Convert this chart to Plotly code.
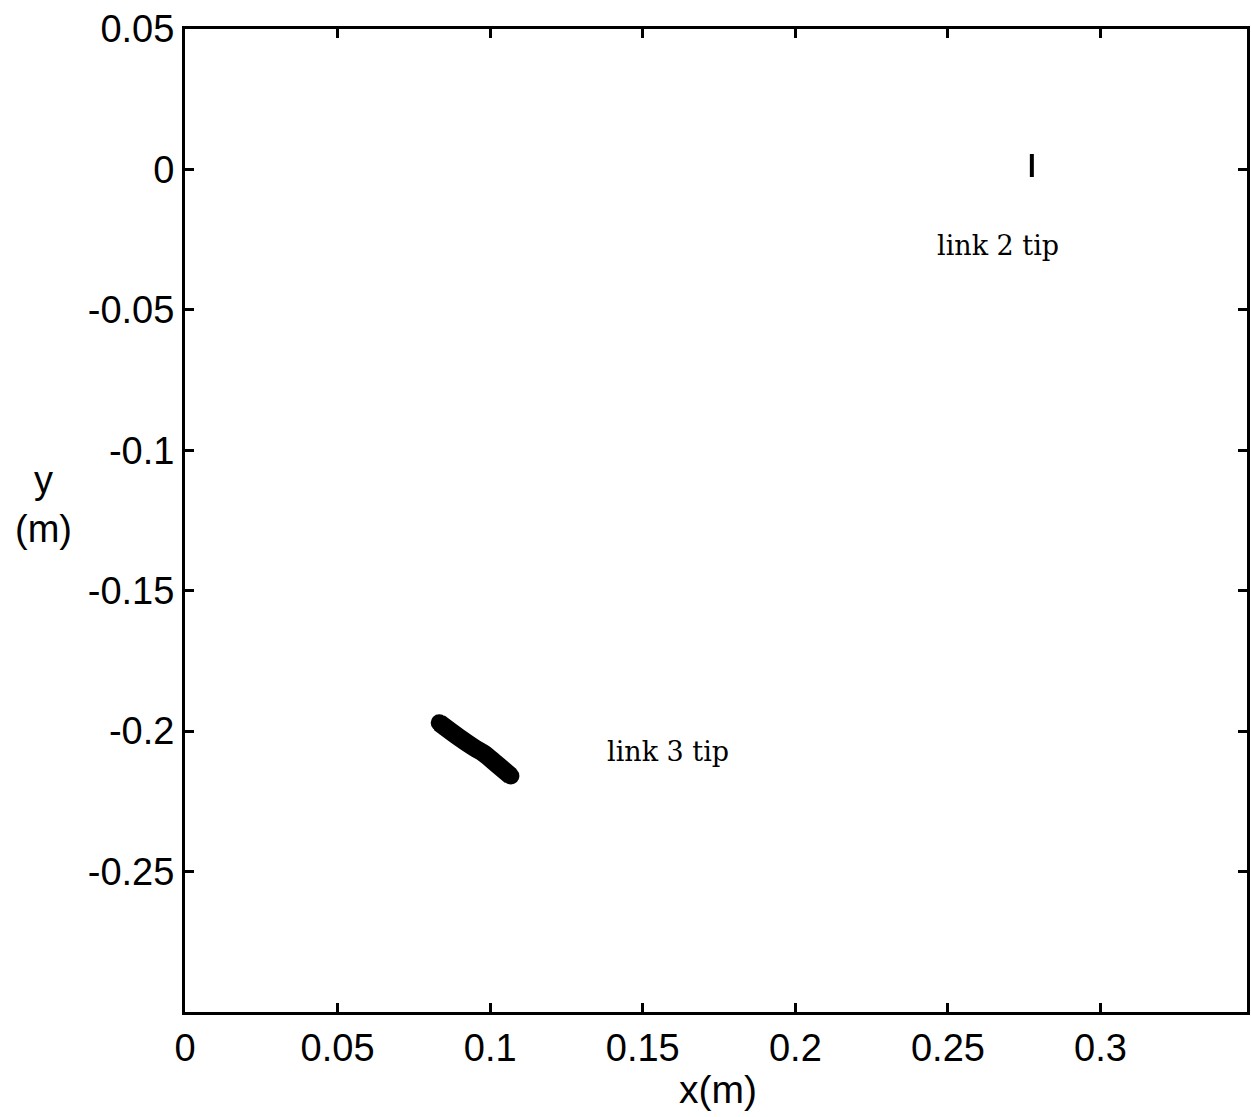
import plotly.graph_objects as go

# link 3 tip trajectory (thick stroke)
link3_x = [0.0833, 0.0899, 0.0948, 0.0980, 0.1020, 0.1068]
link3_y = [-0.1970, -0.2023, -0.2059, -0.2080, -0.2116, -0.2160]

# link 2 tip trajectory (short vertical stroke)
link2_x = [0.2775, 0.2775]
link2_y = [0.0055, -0.0027]

x_ticks = [0, 0.05, 0.1, 0.15, 0.2, 0.25, 0.3]
x_labels = ["0", "0.05", "0.1", "0.15", "0.2", "0.25", "0.3"]
y_ticks = [0.05, 0, -0.05, -0.1, -0.15, -0.2, -0.25]
y_labels = ["0.05", "0", "-0.05", "-0.1", "-0.15", "-0.2", "-0.25"]

fig = go.Figure()
fig.add_trace(go.Scatter(x=link3_x, y=link3_y, mode="lines",
                         line=dict(color="black", width=18, shape="spline"),
                         showlegend=False))
fig.add_trace(go.Scatter(x=[link3_x[0], link3_x[-1]], y=[link3_y[0], link3_y[-1]],
                         mode="markers", marker=dict(color="black", size=17),
                         showlegend=False))
fig.add_trace(go.Scatter(x=link2_x, y=link2_y, mode="lines",
                         line=dict(color="black", width=4),
                         showlegend=False))

fig.add_annotation(x=0.2663, y=-0.027, text="link 2 tip", showarrow=False,
                   font=dict(family="DejaVu Serif", size=27, color="black"))
fig.add_annotation(x=0.1582, y=-0.2073, text="link 3 tip", showarrow=False,
                   font=dict(family="DejaVu Serif", size=27, color="black"))
fig.add_annotation(xref="paper", yref="paper", x=-0.1333, y=0.516,
                   xanchor="center", yanchor="middle",
                   text="y<br>(m)", showarrow=False, align="center",
                   font=dict(family="Liberation Sans", size=38, color="black"))
fig.add_annotation(xref="paper", yref="paper", x=0.502, y=-0.079,
                   xanchor="center", yanchor="middle",
                   text="x(m)", showarrow=False,
                   font=dict(family="Liberation Sans", size=39, color="black"))

axis_common = dict(showgrid=False, zeroline=False, showline=True, linecolor="black",
                   linewidth=3, mirror="ticks", ticks="inside", ticklen=9,
                   tickwidth=3, tickcolor="black",
                   tickfont=dict(family="Liberation Sans", size=38, color="black"))

fig.update_xaxes(range=[0, 0.348], tickvals=x_ticks, ticktext=x_labels, **axis_common)
fig.update_yaxes(range=[-0.3, 0.05], tickvals=y_ticks, ticktext=y_labels, **axis_common)

fig.update_layout(width=1251, height=1117,
                  margin=dict(l=185, r=1, t=29, b=105),
                  plot_bgcolor="white", paper_bgcolor="white")

fig.write_html("out.html")
